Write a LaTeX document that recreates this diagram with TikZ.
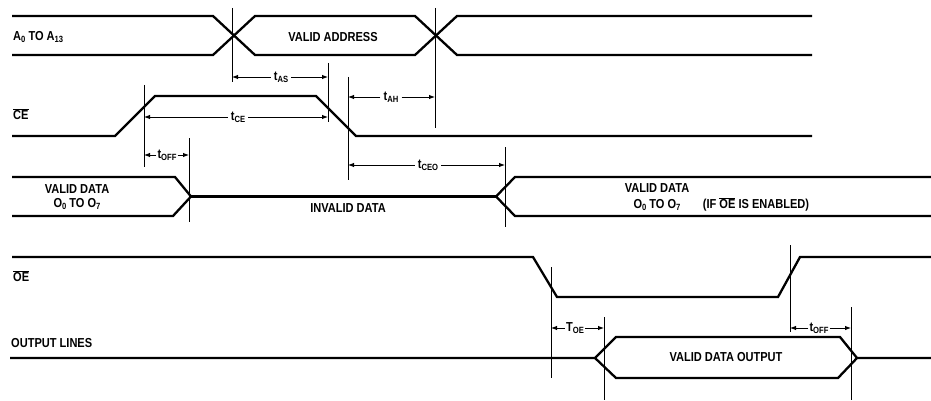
\documentclass[tikz,border=0pt]{standalone}
\usepackage{fontspec}
\setmainfont[FakeStretch=0.85]{Liberation Sans}
\usetikzlibrary{arrows.meta}
\newcommand\lowsub[1]{\raisebox{-2pt}{\fontsize{9}{9}\selectfont #1}}
\newcommand\ovl[1]{$\overline{\mbox{#1}}$}

\begin{document}
\begin{tikzpicture}[x=1pt, y=-1pt,
    sig/.style={line width=2.3pt},
    dim/.style={line width=0.9pt},
    tarr/.style={line width=0.9pt, -{Latex[length=6pt,width=4.5pt]}},
    every node/.style={font=\bfseries\fontsize{13}{14.5}\selectfont, inner sep=1pt},
    tlbl/.style={inner sep=3pt}]
  \useasboundingbox (0,0) rectangle (931,401);

  % signals
  \draw[sig] (12,16) -- (213,16) -- (255,55) -- (415,55) -- (457,16) -- (812,16);
  \draw[sig] (12,55) -- (213,55) -- (255,16) -- (415,16) -- (457,55) -- (812,55);
  \draw[sig] (12,136) -- (115,136) -- (155,96) -- (316,96) -- (356,136) -- (812,136);
  \draw[sig] (12,177) -- (175,177) -- (191,196.5) -- (173,216) -- (12,216);
  \draw[sig] (191,196.5) -- (496,196.5);
  \draw[sig] (931,177) -- (515,177) -- (496,196.5) -- (515,216) -- (931,216);
  \draw[sig] (12,257) -- (533,257) -- (557,297) -- (778,297) -- (800,257) -- (931,257);
  \draw[sig] (10,358) -- (595,358) -- (616,337) -- (840,337) -- (857,358) -- (931,358);
  \draw[sig] (595,358) -- (616,378) -- (838,378) -- (857,358);

  % signal names
  \node[anchor=west] (addr) at (12,37) {A\lowsub{0} TO A\lowsub{13}};
  \node (valaddr) at (333,37) {VALID ADDRESS};
  \node[anchor=west] (ce) at (12,114) {\ovl{CE}};
  \node[align=center] (vdata) at (77,197) {VALID DATA\\O\lowsub{0} TO O\lowsub{7}};
  \node (invdata) at (348,208) {INVALID DATA};
  \node (vdata2) at (657,188) {VALID DATA};
  \node (vdata3) at (657,205) {O\lowsub{0} TO O\lowsub{7}};
  \node (ifoe) at (756,204) {(IF \ovl{OE} IS ENABLED)};
  \node[anchor=west] (oe) at (12,276) {\ovl{OE}};
  \node[anchor=west] (outl) at (10,343) {OUTPUT LINES};
  \node (vdout) at (726,357) {VALID DATA OUTPUT};

  % reference lines
  \coordinate (va) at (232,8);   \draw[dim] (va) -- (232,82);
  \coordinate (vb) at (435,8);   \draw[dim] (vb) -- (435,128);
  \coordinate (vc) at (328,63);  \draw[dim] (vc) -- (328,122);
  \coordinate (vd) at (144,85);  \draw[dim] (vd) -- (144,167);
  \coordinate (ve) at (348,77);  \draw[dim] (ve) -- (348,180);
  \coordinate (vf) at (505,147); \draw[dim] (vf) -- (505,227);
  \coordinate (vg) at (189,138); \draw[dim] (vg) -- (189,222);
  \coordinate (vh) at (551,267); \draw[dim] (vh) -- (551,378);
  \coordinate (vi) at (604,317); \draw[dim] (vi) -- (604,400);
  \coordinate (vj) at (790,245); \draw[dim] (vj) -- (790,332);
  \coordinate (vk) at (851,307); \draw[dim] (vk) -- (851,400);

  % timing intervals
  \node[tlbl] (tas) at (281,77) {t\lowsub{AS}};
  \draw[tarr] (tas) -- (tas -| va);
  \draw[tarr] (tas) -- (tas -| vc);
  \node[tlbl] (tah) at (391,97) {t\lowsub{AH}};
  \draw[tarr] (tah) -- (tah -| ve);
  \draw[tarr] (tah) -- (tah -| vb);
  \node[tlbl] (tce) at (238,117) {t\lowsub{CE}};
  \draw[tarr] (tce) -- (tce -| vd);
  \draw[tarr] (tce) -- (tce -| vc);
  \node[tlbl, inner sep=1pt] (toff) at (167,155) {t\lowsub{OFF}};
  \draw[tarr] (toff) -- (toff -| vd);
  \draw[tarr] (toff) -- (toff -| vg);
  \node[tlbl] (tceo) at (428,165) {t\lowsub{CEO}};
  \draw[tarr] (tceo) -- (tceo -| ve);
  \draw[tarr] (tceo) -- (tceo -| vf);
  \node[tlbl, inner sep=1pt] (toe) at (575,328) {T\lowsub{OE}};
  \draw[tarr] (toe) -- (toe -| vh);
  \draw[tarr] (toe) -- (toe -| vi);
  \node[tlbl, inner sep=1pt] (toff2) at (819,328) {t\lowsub{OFF}};
  \draw[tarr] (toff2) -- (toff2 -| vj);
  \draw[tarr] (toff2) -- (toff2 -| vk);
\end{tikzpicture}
\end{document}
